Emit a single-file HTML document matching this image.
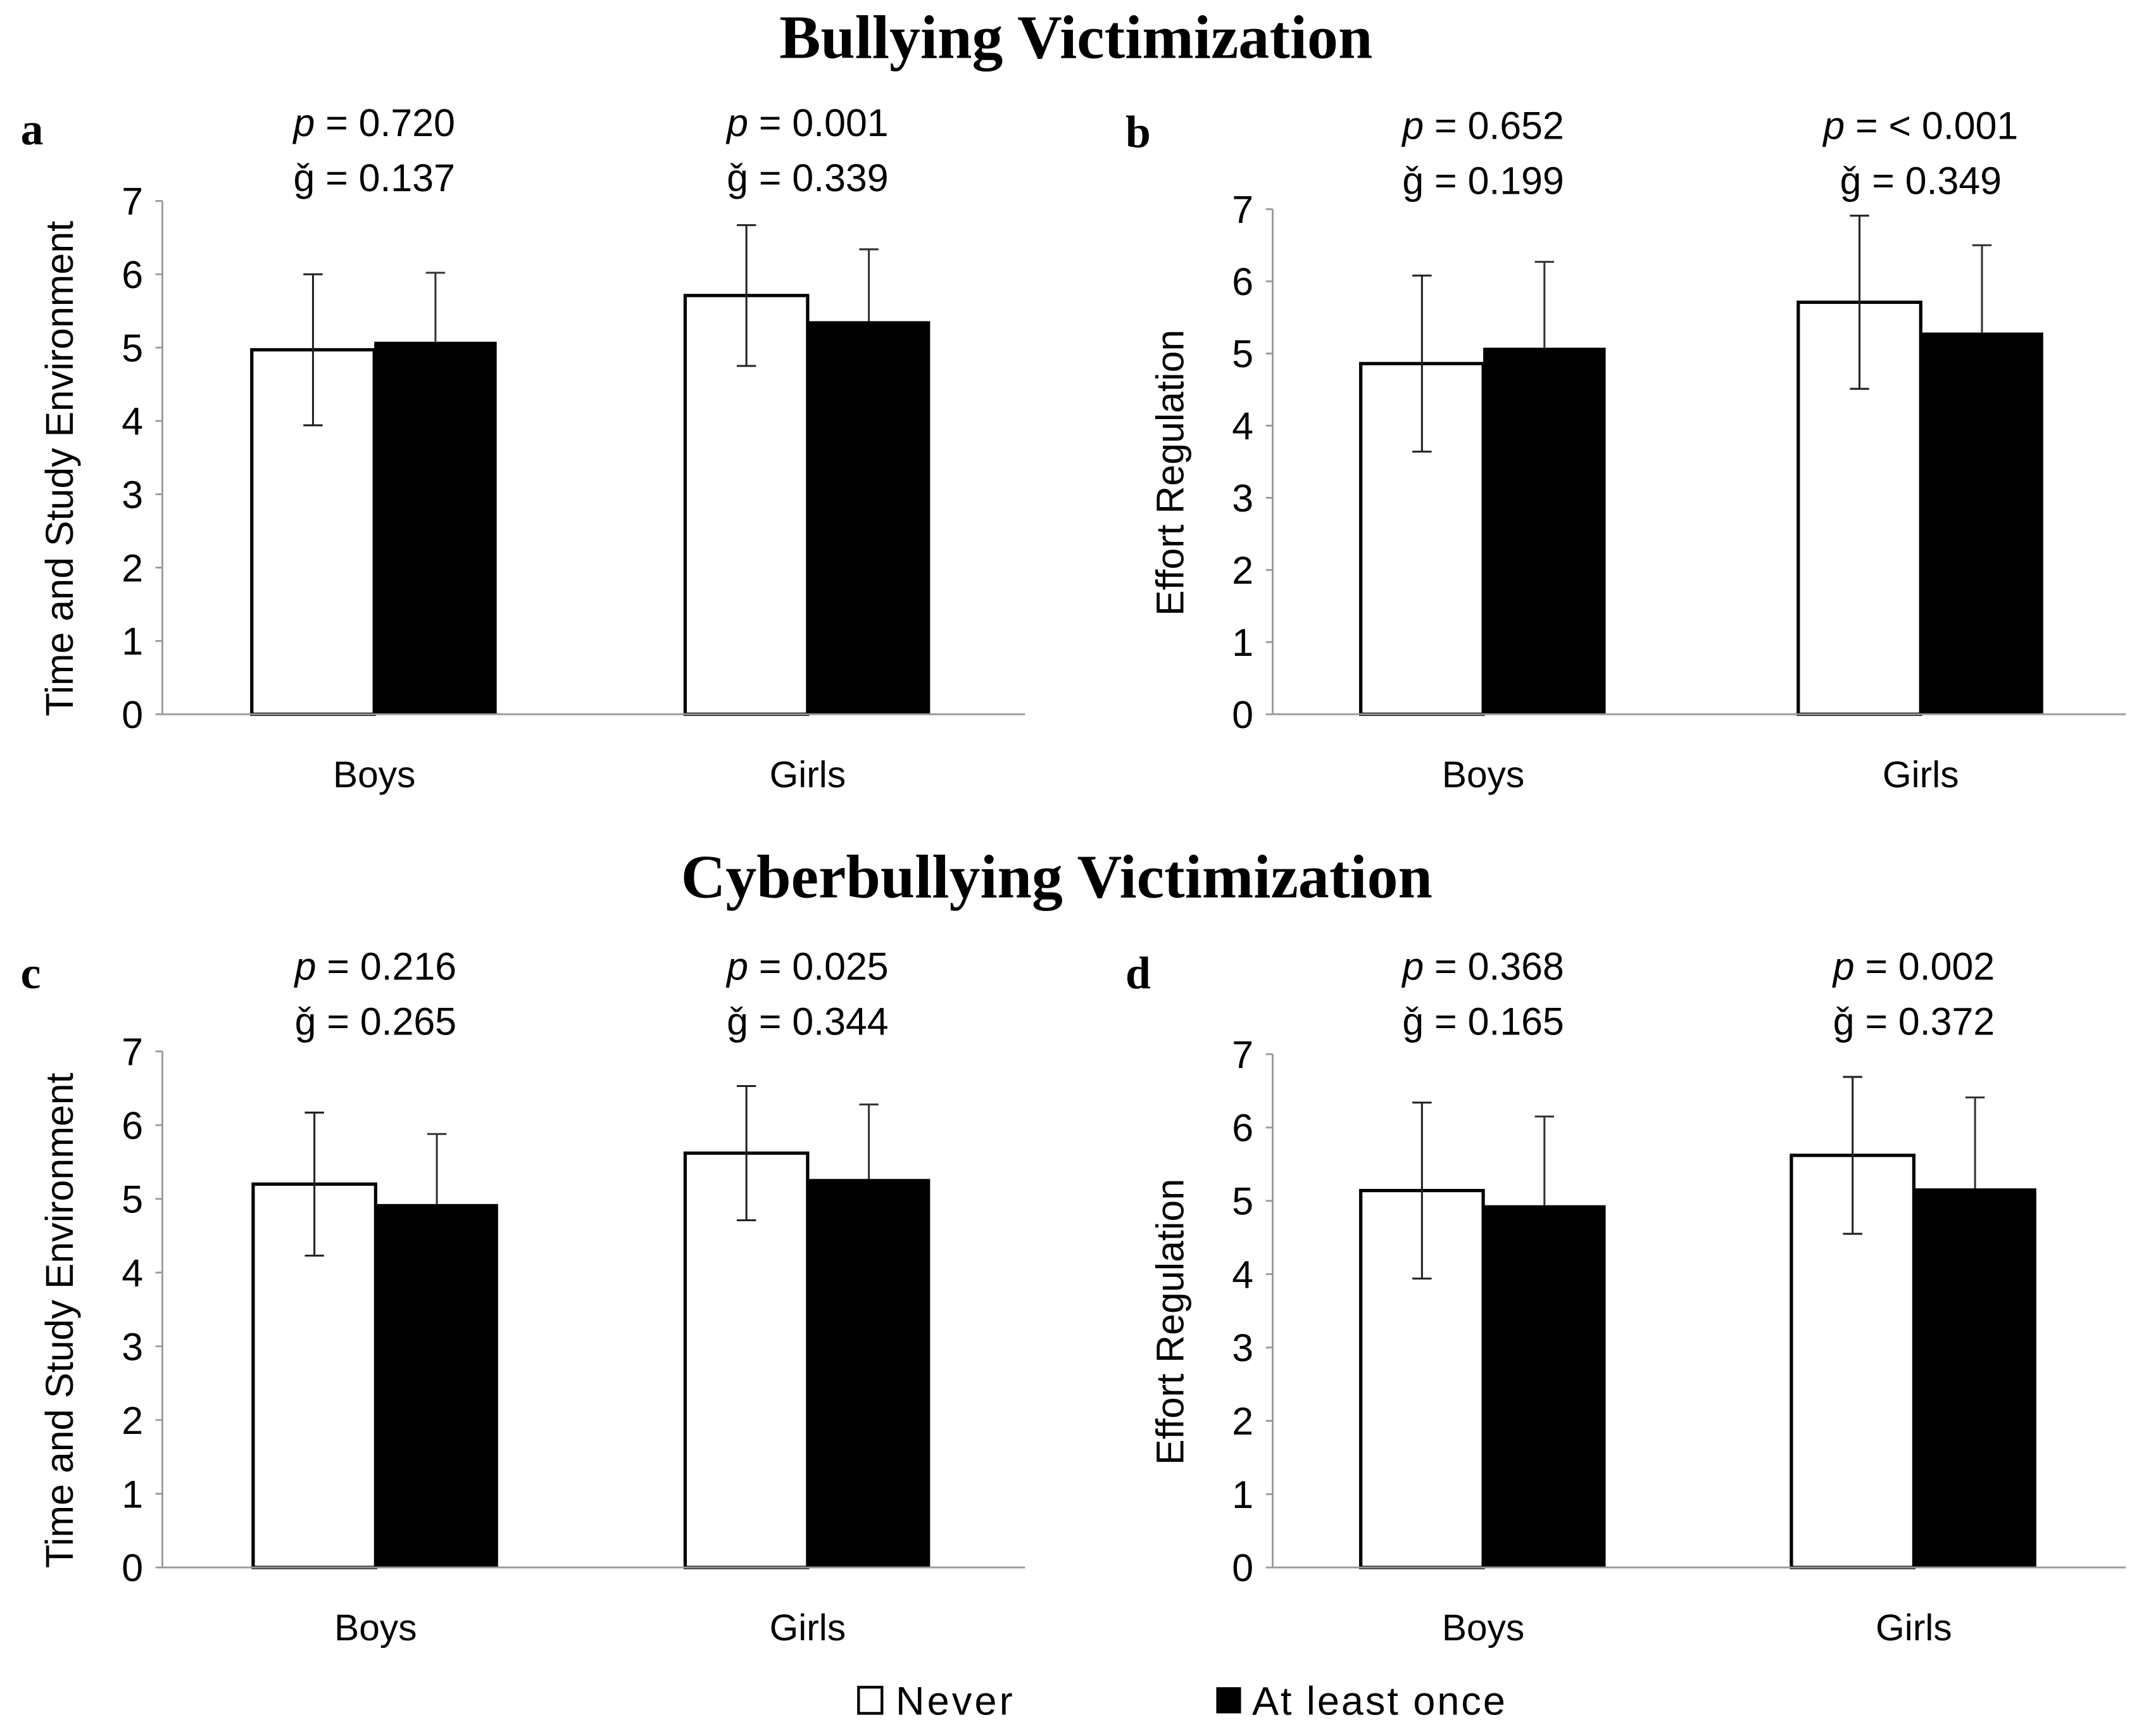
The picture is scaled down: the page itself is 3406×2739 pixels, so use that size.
<!DOCTYPE html>
<html><head><meta charset="utf-8"><style>
html,body{margin:0;padding:0;background:#fff}
svg{display:block}
</style></head><body>
<svg id="fig" width="3406" height="2739" viewBox="0 0 1567 1260" preserveAspectRatio="none" xmlns="http://www.w3.org/2000/svg">
<text x="782" y="42" text-anchor="middle" font-family="Liberation Serif, serif" font-weight="bold" font-size="45">Bullying Victimization</text>
<text x="768" y="652" text-anchor="middle" font-family="Liberation Serif, serif" font-weight="bold" font-size="45">Cyberbullying Victimization</text>
<g id="panels"></g>
<g font-family="Liberation Sans, sans-serif" font-size="29">
<rect x="624" y="1226" width="17" height="19" fill="#fff" stroke="#000" stroke-width="2"/>
<text x="651" y="1246" textLength="85">Never</text>
<rect x="884" y="1226" width="18" height="19" fill="#000"/>
<text x="910" y="1246" textLength="184">At least once</text>
</g>
</svg>
<script>
const categories = ["Boys", "Girls"];
const tickLabels = [0,1,2,3,4,5,6,7];
const aNever = [4.97, 5.71], aOnce = [5.08, 5.36], aNeverErr = [1.03, 0.96], aOnceErr = [0.94, 0.98];
const bNever = [4.86, 5.71], bOnce = [5.08, 5.29], bNeverErr = [1.22, 1.2], bOnceErr = [1.19, 1.21];
const cNever = [5.2, 5.62], cOnce = [4.93, 5.27], cNeverErr = [0.97, 0.91], cOnceErr = [0.95, 1.01];
const dNever = [5.14, 5.62], dOnce = [4.94, 5.17], dNeverErr = [1.2, 1.07], dOnceErr = [1.21, 1.24];
const pLabels = [["0.720","0.001"],["0.652","< 0.001"],["0.216","0.025"],["0.368","0.002"]];
const gLabels = [["0.137","0.339"],["0.199","0.349"],["0.265","0.344"],["0.165","0.372"]];

const NS = "http://www.w3.org/2000/svg";
const root = document.getElementById("panels");
function mk(tag, attrs, parent, txt){
  const e = document.createElementNS(NS, tag);
  for (const k in attrs) e.setAttribute(k, attrs[k]);
  if (txt !== undefined) e.textContent = txt;
  parent.appendChild(e); return e;
}
const panels = [
  {id:"a", lx:15, ly:105, ax:118, right:745, top:146, zero:519, centers:[272,587], ytitle:"Time and Study Environment", never:aNever, once:aOnce, ne:aNeverErr, oe:aOnceErr},
  {id:"b", lx:818, ly:107, ax:925, right:1545, top:152, zero:519, centers:[1078,1396], ytitle:"Effort Regulation", never:bNever, once:bOnce, ne:bNeverErr, oe:bOnceErr},
  {id:"c", lx:15, ly:718, ax:118, right:745, top:764, zero:1139, centers:[273,587], ytitle:"Time and Study Environment", never:cNever, once:cOnce, ne:cNeverErr, oe:cOnceErr},
  {id:"d", lx:818, ly:718, ax:925, right:1545, top:766, zero:1139, centers:[1078,1391], ytitle:"Effort Regulation", never:dNever, once:dOnce, ne:dNeverErr, oe:dOnceErr}
];
const bw = 89;
const sans = "Liberation Sans, DejaVu Sans, sans-serif";
panels.forEach((P, pi) => {
  const g = mk("g", {}, root);
  
  
  const y = v => P.zero - (v / 7) * (P.zero - P.top);
  const lab = mk("text", {x:P.lx, y:P.ly, "font-family":"Liberation Serif, serif", "font-weight":"bold", "font-size":33}, g, P.id);
  
  
  tickLabels.forEach(t => {
    const tl = mk("line", {x1:P.ax-5, x2:P.ax, y1:y(t), y2:y(t), stroke:"#999", "stroke-width":1.3}, g);
    
    
    const tx = mk("text", {x:P.ax-14, y:y(t)+10, "text-anchor":"end", "font-family":sans, "font-size":28}, g, String(t));
    
    
  });
  const ya = mk("line", {x1:P.ax, x2:P.ax, y1:P.top, y2:P.zero, stroke:"#999", "stroke-width":1.3}, g);
  
  
  const cx = P.ax - 65, cy = (P.top + P.zero) / 2 + 8;
  const yt = mk("text", {x:cx, y:cy, transform:`rotate(-90 ${cx} ${cy})`, "text-anchor":"middle", "font-family":sans, "font-size":28}, g, P.ytitle);
  
  
  categories.forEach((c, i) => {
    const xc = P.centers[i];
    const b1 = mk("rect", {x:xc-bw, y:y(P.never[i]), width:bw, height:P.zero-y(P.never[i]), fill:"#fff", stroke:"#000", "stroke-width":2.4}, g);
    
    
    const b2 = mk("rect", {x:xc, y:y(P.once[i]), width:bw, height:P.zero-y(P.once[i]), fill:"#000"}, g);
    
    
    const ex1 = xc-bw/2, v1 = P.never[i], e1 = P.ne[i];
    const eg1 = mk("path", {d:`M${ex1},${y(v1-e1)}V${y(v1+e1)}M${ex1-7},${y(v1+e1)}H${ex1+7}M${ex1-7},${y(v1-e1)}H${ex1+7}`, stroke:"#222", "stroke-width":1.4, fill:"none"}, g);
    
    
    const ex2 = xc+bw/2, v2 = P.once[i], e2 = P.oe[i];
    const eg2 = mk("path", {d:`M${ex2},${y(v2)}V${y(v2+e2)}M${ex2-7},${y(v2+e2)}H${ex2+7}`, stroke:"#333", "stroke-width":1.4, fill:"none"}, g);
    
    
    const cl = mk("text", {x:xc, y:P.zero+53, "text-anchor":"middle", "font-family":sans, "font-size":27}, g, c);
    
    
    const pt = mk("text", {x:xc, y:P.ly-6, "text-anchor":"middle", "font-family":sans, "font-size":28}, g);
    
    
    mk("tspan", {"font-style":"italic"}, pt, "p");
    mk("tspan", {}, pt, " = " + pLabels[pi][i]);
    const gt = mk("text", {x:xc, y:P.ly+34, "text-anchor":"middle", "font-family":sans, "font-size":28}, g, "ǧ = " + gLabels[pi][i]);
    
    
  });
  const xa = mk("line", {x1:P.ax, x2:P.right, y1:P.zero, y2:P.zero, stroke:"#999", "stroke-width":1.3}, g);
  
  
});
</script>
</body></html>
